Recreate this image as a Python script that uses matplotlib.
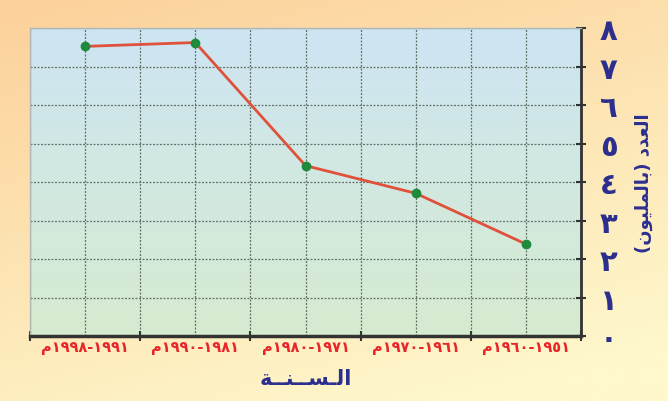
import numpy as np
import matplotlib.pyplot as plt
from matplotlib.colors import to_rgb

# data (periods ordered chronologically, drawn right to left)
start_years = [1951, 1961, 1971, 1981, 1991]
end_years = [1960, 1970, 1980, 1990, 1998]
population = [2.39, 3.71, 4.43, 7.63, 7.53]  # millions
y_ticks = list(range(0, 9))

AR_DIGITS = '٠١٢٣٤٥٦٧٨٩'


def ar_num(n):
    return ''.join(AR_DIGITS[int(c)] for c in str(n))


# matplotlib has no arabic shaping: presentation forms, visual order
x_labels = ['\uFEE1' + ar_num(e) + '-' + ar_num(s) for s, e in zip(start_years, end_years)]
x_title = '\uFE94\u0640\u0640\uFEE8\u0640\u0640\uFEB4\u0640\uFEDF\uFE8D'
y_title = '(' + '\uFEE5\uFEEE\uFEF4\uFEE0\uFEE4\uFEDF\uFE8E\uFE91' + ') ' + '\uFEA9\uFEAA\uFECC\uFEDF\uFE8D'

navy = '#2c2f8e'
red = '#e8262a'

fig = plt.figure(figsize=(6.68, 4.02), dpi=100)

# page background gradient
bg = fig.add_axes([0, 0, 1, 1], zorder=-10)
h, w = 200, 330
yy, xx = np.mgrid[0:1:h * 1j, 0:1:w * 1j]
t = np.clip(0.75 * yy + 0.35 * xx, 0, 1)[..., None]
c0 = np.array(to_rgb('#fcd09a'))
c1 = np.array(to_rgb('#fef8cc'))
bg.imshow(c0 + (c1 - c0) * t, aspect='auto', extent=(0, 1, 0, 1), origin='upper')
bg.axis('off')

ax = fig.add_axes([0.0449, 0.1617, 0.8249, 0.7654])

# plot area gradient
g = np.linspace(0, 1, 100)[:, None, None]
p0 = np.array(to_rgb('#cde5f3'))
p1 = np.array(to_rgb('#d6ebcf'))
ax.imshow(p0 + (p1 - p0) * g, aspect='auto', extent=(-0.5, 4.5, 0, 8), origin='upper', zorder=0)

x = np.arange(len(population))
ax.plot(x, population, color='#e0513c', lw=2, marker='o', ms=6,
        mfc='#1d8a3c', mec='#1d8a3c', zorder=3)

ax.set_xlim(4.5, -0.5)
ax.set_ylim(0, 8)

ax.set_xticks(x)
ax.set_xticklabels(x_labels)
ax.set_xticks(np.arange(-0.5, 4.6, 1.0), minor=True)
ax.tick_params(axis='x', which='major', length=0, pad=2)
ax.tick_params(axis='x', which='minor', length=7, direction='inout', width=1.5, color='#333333')
for lbl in ax.get_xticklabels():
    lbl.set_color(red)
    lbl.set_fontsize(10.5)
    lbl.set_fontweight('bold')

ax.yaxis.tick_right()
ax.set_yticks(y_ticks)
ax.set_yticklabels([ar_num(v) for v in y_ticks])
ax.tick_params(axis='y', length=7, direction='inout', width=1.5, color='#333333', pad=10)
for lbl in ax.get_yticklabels():
    lbl.set_color(navy)
    lbl.set_fontsize(21)
    lbl.set_fontweight('bold')

grid_style = dict(color='#64746a', ls=(0, (1.6, 1.2)), lw=0.9)
ax.grid(True, which='both', axis='x', **grid_style)
ax.grid(True, which='major', axis='y', **grid_style)
for ln in ax.get_xgridlines() + ax.get_ygridlines():
    ln.set_zorder(1)

for side in ['left', 'top']:
    ax.spines[side].set_color('#b0b8b8')
    ax.spines[side].set_linewidth(1)
ax.spines['right'].set_color('#333333')
ax.spines['right'].set_linewidth(2)
ax.spines['bottom'].set_color('#333333')
ax.spines['bottom'].set_linewidth(2.5)

ax.set_xlabel(x_title, color=navy, fontsize=15, fontweight='bold', labelpad=10)
ax.yaxis.set_label_position('right')
ax.set_ylabel(y_title, color=navy, fontsize=13, fontweight='bold', rotation=90, labelpad=12)

plt.savefig('out.png', dpi=100)
